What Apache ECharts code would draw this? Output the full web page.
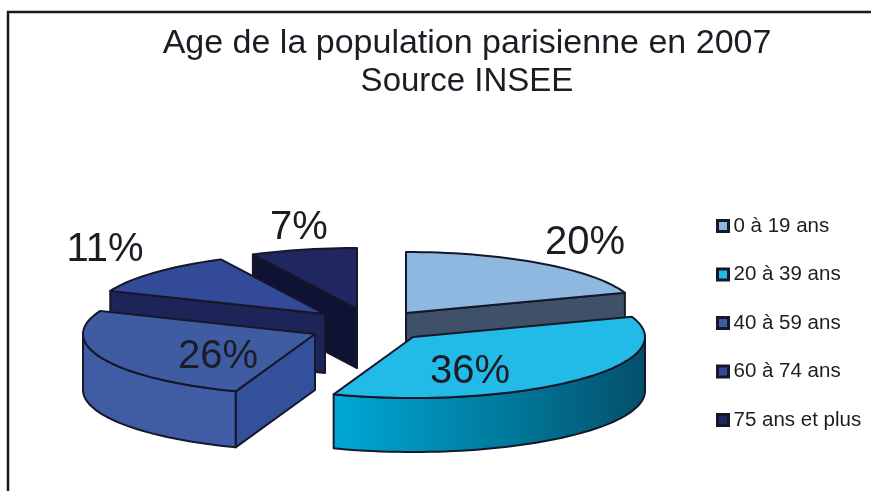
<!DOCTYPE html>
<html>
<head>
<meta charset="utf-8">
<title>Age de la population parisienne en 2007</title>
<script src="https://cdn.jsdelivr.net/npm/echarts@6/dist/echarts.min.js"></script>
<style>
html, body { margin: 0; padding: 0; background: #fff; }
#chart { width: 871px; height: 491px; }
</style>
</head>
<body>
<div id="chart"></div>
<script>
var ageGroups = ['0 à 19 ans', '20 à 39 ans', '40 à 59 ans', '60 à 74 ans', '75 ans et plus'];
// the labels show them rounded
var shares = [19.6, 35.9, 25.6, 11.4, 7.4];

// fake 3D layout: exploded slice apex, ellipse radii, wall height
var apex = [[406, 313], [413, 337], [315, 334], [325, 314], [357, 309]];
var depths = [56, 54, 56, 59, 59];
var labelPos = [[585, 243], [470, 372], [218, 357], [105, 250], [299, 228]];
var drawOrder = [3, 5, 4, 2, 1];
var rx = 232, ry = 61;

var topColors = ['#8fb8e0', '#22bbe8', '#3f5ca3', '#334a99', '#20265f'];
var arcColors = ['#3f5168', null, '#3f5ca5', '#1d2458', '#0f1233'];
var cutColors = ['#3f5168', '#0090b8', '#33509a', '#1d2458', '#0f1233'];
var edge = '#16182a';

var total = shares.reduce(function (a, b) { return a + b; }, 0);

function pt(c, deg, dy) {
    var r = deg * Math.PI / 180;
    return [c[0] + rx * Math.sin(r), c[1] - ry * Math.cos(r) + (dy || 0)];
}

function arcPoints(c, from, to, dy) {
    var out = [];
    for (var d = from; d < to; d += 2) out.push(pt(c, d, dy));
    out.push(pt(c, to, dy));
    return out;
}

function poly(points, fill) {
    return {
        type: 'polygon',
        shape: { points: points },
        style: { fill: fill, stroke: edge, lineWidth: 2, lineJoin: 'round' }
    };
}

function makeRender(idx) {
    return function (params, api) {
        var before = 0;
        for (var i = 0; i < idx; i++) before += shares[i];
        var a = before / total * 360;
        var b = a + api.value(0) / total * 360;
        var c = apex[idx];
        var depth = depths[idx];
        var kids = [];
        var arad = a * Math.PI / 180, brad = b * Math.PI / 180;

        // cut walls facing the viewer
        if (Math.sin(arad) < -0.001) {
            var pa = pt(c, a);
            kids.push(poly([c, pa, [pa[0], pa[1] + depth], [c[0], c[1] + depth]], cutColors[idx]));
        }
        if (Math.sin(brad) > 0.001) {
            var pb = pt(c, b);
            kids.push(poly([c, pb, [pb[0], pb[1] + depth], [c[0], c[1] + depth]], cutColors[idx]));
        }
        // outer wall, front half of the ellipse only
        var from = Math.max(a, 90), to = Math.min(b, 270);
        if (to > from) {
            var wallFill = arcColors[idx] || new echarts.graphic.LinearGradient(0, 0, 1, 0, [
                { offset: 0, color: '#00a8d6' },
                { offset: 0.55, color: '#007a9c' },
                { offset: 1, color: '#03506a' }
            ]);
            kids.push(poly(arcPoints(c, from, to).concat(arcPoints(c, from, to, depth).reverse()), wallFill));
        }
        // top face
        kids.push(poly([c].concat(arcPoints(c, a, b)), topColors[idx]));
        // percent label
        kids.push({
            type: 'text',
            style: {
                text: Math.round(api.value(0)) + '%',
                x: labelPos[idx][0],
                y: labelPos[idx][1],
                align: 'center',
                verticalAlign: 'middle',
                fontFamily: 'Liberation Sans',
                fontSize: 40,
                fill: '#1c1c24'
            }
        });
        return { type: 'group', children: kids };
    };
}

var series = ageGroups.map(function (name, i) {
    return {
        name: name,
        type: 'custom',
        coordinateSystem: 'none',
        z: drawOrder[i],
        silent: true,
        animation: false,
        itemStyle: { color: topColors[i] },
        data: [[shares[i]]],
        renderItem: makeRender(i)
    };
});

var myChart = echarts.init(document.getElementById('chart'));
myChart.setOption({
    animation: false,
    title: {
        text: 'Age de la population parisienne en 2007',
        subtext: 'Source INSEE',
        left: 467,
        top: 25,
        padding: 0,
        itemGap: 0,
        textAlign: 'center',
        textStyle: {
            fontFamily: 'Liberation Sans',
            fontSize: 34,
            fontWeight: 'normal',
            lineHeight: 38,
            color: '#1c1c24'
        },
        subtextStyle: {
            fontFamily: 'Liberation Sans',
            fontSize: 33,
            lineHeight: 38,
            color: '#1c1c24'
        }
    },
    legend: {
        orient: 'vertical',
        left: 716,
        top: 215,
        padding: 0,
        itemWidth: 11,
        itemHeight: 11,
        itemGap: 26.5,
        selectedMode: false,
        icon: 'rect',
        textStyle: {
            fontFamily: 'Liberation Sans',
            fontSize: 20.5,
            lineHeight: 22,
            color: '#1c1c24',
            padding: 0
        },
        data: ageGroups.map(function (name, i) {
            return {
                name: name,
                itemStyle: { color: topColors[i], borderColor: edge, borderWidth: 3 }
            };
        })
    },
    graphic: [{
        type: 'rect',
        silent: true,
        shape: { x: 8, y: 12, width: 900, height: 520 },
        style: { fill: 'none', stroke: '#1a1a1a', lineWidth: 2.5 }
    }],
    series: series
});
</script>
</body>
</html>
